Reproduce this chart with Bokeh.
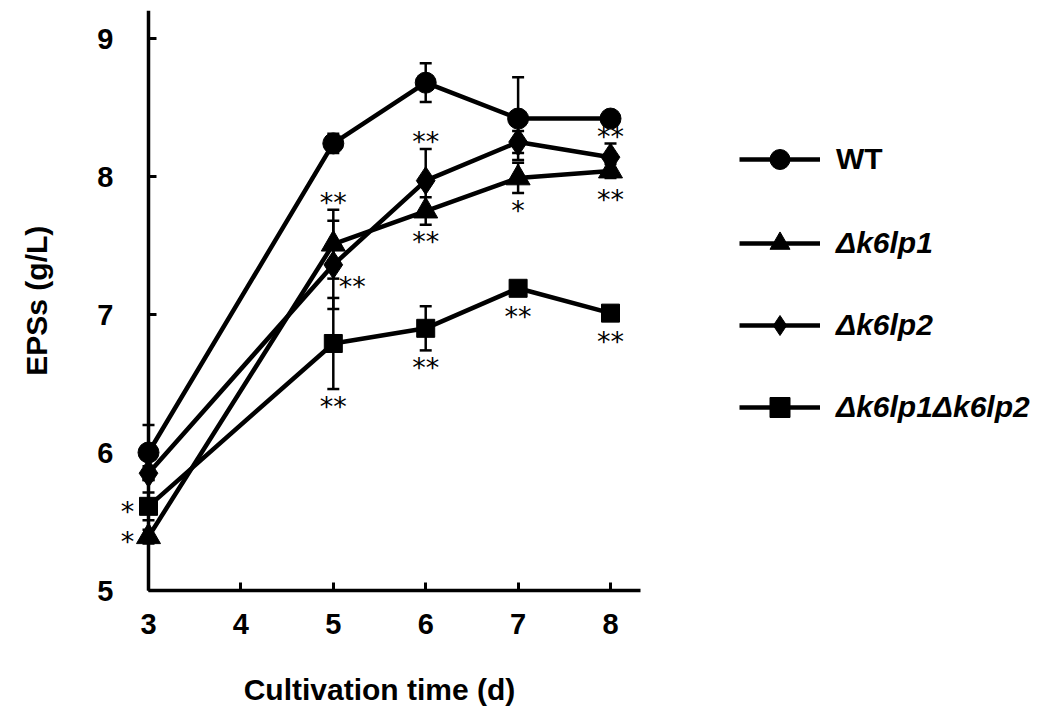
import math
from bokeh.plotting import figure
from bokeh.models import (ColumnDataSource, Whisker, TeeHead, FixedTicker, Legend,
                          LegendItem, Range1d, Label)
from bokeh.core.properties import value
from bokeh.embed import file_html
from bokeh.resources import INLINE

# ---------------- data ----------------
days = [3, 5, 6, 7, 8]
x_ticks = [3, 4, 5, 6, 7, 8]
y_ticks = [5, 6, 7, 8, 9]

wt = [6.00, 8.24, 8.68, 8.42, 8.42]
wt_err = [0.20, 0.07, 0.14, 0.30, 0.04]
k1 = [5.39, 7.51, 7.75, 7.99, 8.04]
k1_err = [0.05, 0.25, 0.10, 0.11, 0.05]
k2 = [5.85, 7.36, 7.97, 8.25, 8.14]
k2_err = [0.05, 0.32, 0.23, 0.08, 0.10]
dko = [5.61, 6.79, 6.90, 7.19, 7.01]
dko_err = [0.10, 0.33, 0.16, 0.04, 0.04]

series_names = ["WT", "Δk6lp1", "Δk6lp2", "Δk6lp1Δk6lp2"]
x_title = "Cultivation time (d)"
y_title = "EPSs (g/L)"

# significance marks
sig_series = ["k1", "dko", "k1", "k2", "dko", "k2", "k1", "dko", "k1", "dko", "k2", "k1", "dko"]
sig_day = [3, 3, 5, 5, 5, 6, 6, 6, 7, 7, 8, 8, 8]
sig_text = ["*", "*", "**", "**", "**", "**", "**", "**", "*", "**", "**", "**", "**"]
sig_side = ["left", "left", "above", "right", "below", "above", "below", "below",
            "below", "below", "above", "below", "below"]

# ---------------- figure ----------------
FONT = "Liberation Sans"
X_END = 8.32   # end of the drawn x axis line
Y_END = 9.2    # end of the drawn y axis line
p = figure(frame_width=1027, frame_height=702, output_backend="svg", toolbar_location=None,
           x_range=Range1d(1.5065, 12.621), y_range=Range1d(4.116, 9.203),
           min_border_left=10, min_border_top=10, min_border_right=0, min_border_bottom=0)
p.grid.visible = False
p.outline_line_color = None


def style_axis(ax):
    ax.axis_line_width = 3.5
    ax.major_tick_line_width = 3
    ax.major_tick_in = 8
    ax.major_tick_out = 0
    ax.minor_tick_line_color = None
    ax.major_label_text_font = FONT
    ax.major_label_text_font_style = "bold"
    ax.major_label_text_font_size = "29px"
    ax.major_label_text_color = "black"


xax = p.xaxis[0]
style_axis(xax)
xax.ticker = FixedTicker(ticks=x_ticks)
xax.bounds = (x_ticks[0], X_END)
xax.fixed_location = y_ticks[0]
xax.major_label_standoff = 23

yax = p.yaxis[0]
style_axis(yax)
yax.ticker = FixedTicker(ticks=y_ticks)
yax.bounds = (y_ticks[0], Y_END)
yax.fixed_location = x_ticks[0]
yax.major_label_standoff = 35

title_style = dict(text_font=FONT, text_font_style="bold", text_font_size="30px",
                   text_color="black", text_align="center", text_baseline="middle")
p.add_layout(Label(x=(x_ticks[0] + x_ticks[-1]) / 2, y=y_ticks[0], y_offset=-99,
                   text=x_title, **title_style))
p.add_layout(Label(x=x_ticks[0], y=(y_ticks[0] + Y_END) / 2, x_offset=-112,
                   angle=math.pi / 2, text=y_title, **title_style))

data = {"WT": (wt, wt_err), "k1": (k1, k1_err), "k2": (k2, k2_err), "dko": (dko, dko_err)}
styles = {
    "WT": dict(marker="circle", size=21),
    "k1": dict(marker="triangle", size=24),
    "k2": dict(marker="diamond", size=28),
    "dko": dict(marker="square", size=18),
}
items = []
for key, label in zip(["WT", "k1", "k2", "dko"], series_names):
    vals, errs = data[key]
    src = ColumnDataSource(dict(x=days, y=vals,
                                upper=[v + e for v, e in zip(vals, errs)],
                                lower=[v - e for v, e in zip(vals, errs)]))
    w = Whisker(source=src, base="x", upper="upper", lower="lower", dimension="height",
                line_width=2.5, line_color="black",
                upper_head=TeeHead(size=12, line_width=2.5, line_color="black"),
                lower_head=TeeHead(size=12, line_width=2.5, line_color="black"))
    p.add_layout(w)
    lr = p.line("x", "y", source=src, line_width=4.5, line_color="black")
    st = styles[key]
    sr = p.scatter("x", "y", source=src, marker=st["marker"], size=st["size"],
                   fill_color="black", line_color="black")
    items.append(LegendItem(label=label, renderers=[lr, sr]))

# significance labels (offsets in screen pixels)
offsets = {"left": (-21, 5), "right": (19, 22), "above": (0, -7), "below": (0, 17)}
sx, sy, dx, dy = [], [], [], []
for s, d, side in zip(sig_series, sig_day, sig_side):
    vals, errs = data[s]
    i = days.index(d)
    if side == "above":
        yy = vals[i] + errs[i]
    elif side == "below":
        yy = vals[i] - max(errs[i], 0.08)
    else:
        yy = vals[i]
    sx.append(d)
    sy.append(yy)
    dx.append(offsets[side][0])
    dy.append(offsets[side][1])
sig_src = ColumnDataSource(dict(x=sx, y=sy, text=sig_text, dx=dx, dy=dy))
p.text("x", "y", text="text", source=sig_src, x_offset="dx", y_offset="dy",
       text_align="center", text_baseline="middle", text_font=value("DejaVu Sans"),
       text_font_size="27px", text_color="black")

legend_common = dict(glyph_width=81, glyph_height=50, label_height=50, spacing=32,
                     label_standoff=16, padding=0, margin=0, border_line_color=None,
                     background_fill_alpha=0, label_text_font=FONT,
                     label_text_font_size="30px", label_text_color="black")
leg1 = Legend(items=items[:1], location=(729, 528), label_text_font_style="bold",
              **legend_common)
leg2 = Legend(items=items[1:], location=(729, 280), label_text_font_style="bold italic",
              **legend_common)
p.add_layout(leg1)
p.add_layout(leg2)

open("out.html", "w").write(file_html(p, INLINE))
